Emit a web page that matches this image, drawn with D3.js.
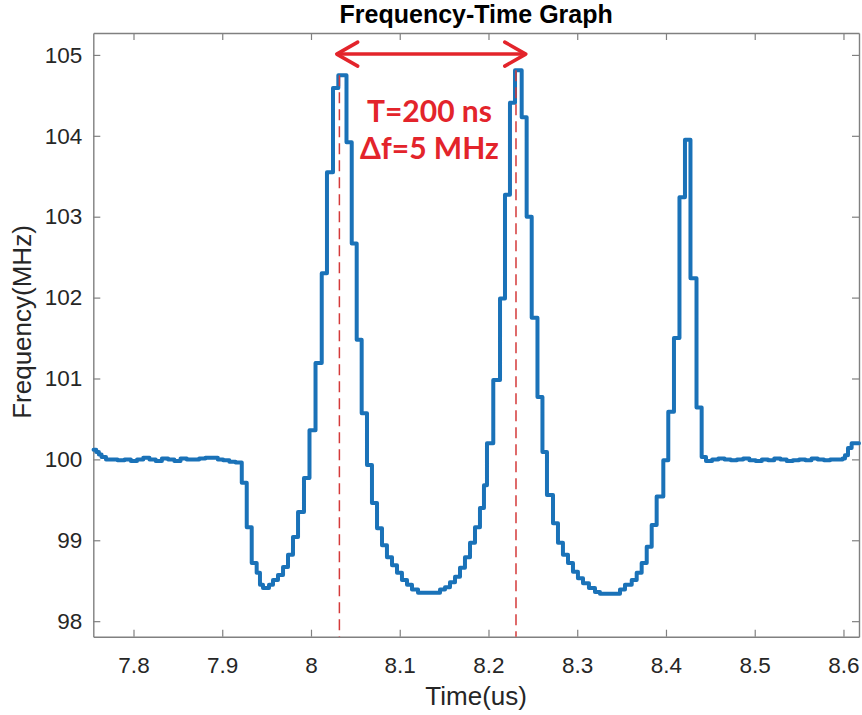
<!DOCTYPE html>
<html><head><meta charset="utf-8">
<script src="https://cdn.jsdelivr.net/npm/d3@7"></script>
<style>body{margin:0;background:#fff}svg{display:block}</style>
</head><body><svg id="chart" width="862" height="715"></svg>
<script>
// ---- data (time in us, frequency in MHz), step-after samples ----
const times = [
 7.755,7.758,7.761,7.764,7.769,7.775,7.782,7.790,7.797,7.804,7.811,7.818,7.825,7.832,7.839,7.846,7.853,7.860,7.867,7.874,7.881,7.888,7.895,7.901,7.908,7.915,
 7.922,7.9276,7.9332,7.9388,7.9425,7.9459,7.9527,7.9572,7.9628,7.9685,7.9741,7.9797,7.9854,7.9921,7.9983,8.0051,8.0121,8.0180,8.0248,8.0308,
 8.0400,8.0459,8.0515,8.0571,8.0631,8.0687,8.0744,8.0800,8.0856,8.0913,8.0969,8.1025,8.1082,8.1138,8.1206,
 8.1454,8.1510,8.1566,8.1623,8.1679,8.1735,8.1792,8.1848,8.1904,8.1949,8.1983,8.2054,8.2130,8.2186,8.2242,8.2299,
 8.2374,8.2430,8.2487,8.2552,8.2608,8.2659,8.2727,8.2783,8.2839,8.2896,8.2952,8.3008,8.3065,8.3132,8.3200,8.3256,
 8.3482,8.3538,8.3614,8.3670,8.3726,8.3783,8.3839,8.3895,8.3970,8.4026,8.4090,8.4152,8.4214,
 8.4276,8.4344,8.4402,8.4451,
 8.452,8.459,8.466,8.473,8.480,8.487,8.494,8.501,8.508,8.515,8.522,8.529,8.536,8.543,8.550,8.557,8.564,8.571,8.578,8.585,8.592,8.599,
 8.6017,8.6051,8.6092,8.6175
];
const freqs = [
 100.12,100.09,100.06,100.03,100.00,100.00,99.99,100.00,99.98,100.00,100.02,100.00,99.98,100.01,100.00,99.98,100.01,100.00,100.00,100.01,100.02,100.02,100.00,99.99,99.97,99.96,
 99.71,99.16,98.72,98.60,98.45,98.41,98.45,98.51,98.57,98.67,98.82,99.04,99.35,99.77,100.36,101.19,102.30,103.55,104.59,104.75,
 103.92,102.67,101.48,100.57,99.93,99.46,99.15,98.94,98.79,98.69,98.60,98.51,98.45,98.39,98.35,
 98.39,98.42,98.48,98.55,98.66,98.79,98.97,99.16,99.40,99.68,100.20,100.98,101.99,103.27,104.41,104.81,
 104.23,103.00,101.75,100.77,100.09,99.56,99.21,98.97,98.82,98.72,98.61,98.53,98.47,98.41,98.36,98.34,
 98.39,98.45,98.51,98.60,98.72,98.92,99.19,99.54,99.99,100.59,101.50,103.24,103.95,
 102.24,100.64,100.03,99.98,
 100.00,100.01,100.00,99.99,100.00,100.01,99.99,99.98,100.00,99.99,100.01,100.00,99.98,99.99,100.00,99.99,100.01,100.00,99.99,100.00,100.00,100.01,
 100.05,100.14,100.20,100.20
];
const xTicks = [7.8,7.9,8.0,8.1,8.2,8.3,8.4,8.5,8.6];
const xTickLabels = ["7.8","7.9","8","8.1","8.2","8.3","8.4","8.5","8.6"];
const yTicks = [98,99,100,101,102,103,104,105];
const yTickLabels = ["98","99","100","101","102","103","104","105"];
const markerTimes = [8.032, 8.231];
const markerFreqs = [104.75, 104.81];
const arrowTimes = [8.029, 8.242];
const arrowFreq = [105.01];
const annotationLines = ["T=200 ns", "\u0394f=5 MHz"];
const annotationTime = [8.1335];
const annotationFreqs = [104.17, 103.71];
const titleText = "Frequency-Time Graph";
const xLabelText = "Time(us)";
const yLabelText = "Frequency(MHz)";

// ---- layout ----
const W = 862, H = 715;
const L = 93.3, T = 33, R = 859, B = 636.7;
const svg = d3.select("#chart");
const x = d3.scaleLinear().domain([7.7547, 8.6175]).range([L, R]);
const y = d3.scaleLinear().domain([97.808, 105.271]).range([B, T]);
const axisColor = "#808080", textColor = "#262626";
const tickFont = "Liberation Sans, Arial, sans-serif";

svg.append("rect").attr("width", W).attr("height", H).attr("fill", "#fff");

function styleAxis(g, showText) {
  g.select(".domain").attr("stroke", axisColor).attr("stroke-width", 1.4);
  g.selectAll(".tick line").attr("stroke", axisColor).attr("stroke-width", 1.2);
  g.selectAll(".tick text").attr("fill", textColor).attr("font-family", tickFont).attr("font-size", "22.5px");
  if (!showText) g.selectAll(".tick text").remove();
}

const xb = svg.append("g").attr("transform", `translate(0,${B})`)
  .call(d3.axisBottom(x).tickValues(xTicks).tickFormat((d,i)=>xTickLabels[i]).tickSizeInner(-7).tickSizeOuter(0).tickPadding(20));
styleAxis(xb, true);
const xt = svg.append("g").attr("transform", `translate(0,${T})`)
  .call(d3.axisTop(x).tickValues(xTicks).tickSizeInner(-7).tickSizeOuter(0));
styleAxis(xt, false);
const yl = svg.append("g").attr("transform", `translate(${L},0)`)
  .call(d3.axisLeft(y).tickValues(yTicks).tickFormat((d,i)=>yTickLabels[i]).tickSizeInner(-7).tickSizeOuter(0).tickPadding(11));
styleAxis(yl, true);
const yr = svg.append("g").attr("transform", `translate(${R},0)`)
  .call(d3.axisRight(y).tickValues(yTicks).tickSizeInner(-7).tickSizeOuter(0));
styleAxis(yr, false);

// ---- curve ----
const pts = times.map((t,i)=>[t, freqs[i]]);
const line = d3.line().x(d=>x(d[0])).y(d=>y(d[1])).curve(d3.curveStepAfter);
svg.append("path").datum(pts).attr("d", line)
  .attr("fill","none").attr("stroke","#1a72b8").attr("stroke-width",4)
  .attr("stroke-linejoin","round").attr("stroke-linecap","round");

// ---- annotations ----
const red = "#e3242b";
markerTimes.forEach((t,i)=>{
  svg.append("line").attr("x1",x(t)).attr("x2",x(t)).attr("y1",y(markerFreqs[i])).attr("y2",B)
    .attr("stroke","#d43a3a").attr("stroke-width",1.5).attr("stroke-dasharray","11,6");
});
const ax1 = x(arrowTimes[0]), ax2 = x(arrowTimes[1]), ay = y(arrowFreq[0]);
svg.append("line").attr("x1",ax1+2).attr("x2",ax2-2).attr("y1",ay).attr("y2",ay)
  .attr("stroke",red).attr("stroke-width",3.5);
[[ax1,1],[ax2,-1]].forEach(([px,dir])=>{
  svg.append("polyline").attr("points",`${px+dir*21},${ay-12} ${px},${ay} ${px+dir*21},${ay+12}`)
    .attr("fill","none").attr("stroke",red).attr("stroke-width",3.5).attr("stroke-linecap","round").attr("stroke-linejoin","round");
});
annotationLines.forEach((s,i)=>{
  svg.append("text").attr("x",x(annotationTime[0])).attr("y",y(annotationFreqs[i]))
    .attr("text-anchor","middle").attr("font-family","Lato, 'Open Sans', sans-serif").attr("font-weight","bold")
    .attr("font-size","30px").attr("fill",red).text(s);
});

// ---- labels ----
svg.append("text").attr("x",(L+R)/2).attr("y",23).attr("text-anchor","middle")
  .attr("font-family",tickFont).attr("font-weight","bold").attr("font-size","25px").attr("fill","#000").text(titleText);
svg.append("text").attr("x",(L+R)/2).attr("y",705).attr("text-anchor","middle")
  .attr("font-family",tickFont).attr("font-size","26px").attr("fill",textColor).text(xLabelText);
svg.append("text").attr("transform",`translate(31,322) rotate(-90)`).attr("text-anchor","middle")
  .attr("font-family",tickFont).attr("font-size","26px").attr("fill",textColor).text(yLabelText);
</script>
</body></html>
